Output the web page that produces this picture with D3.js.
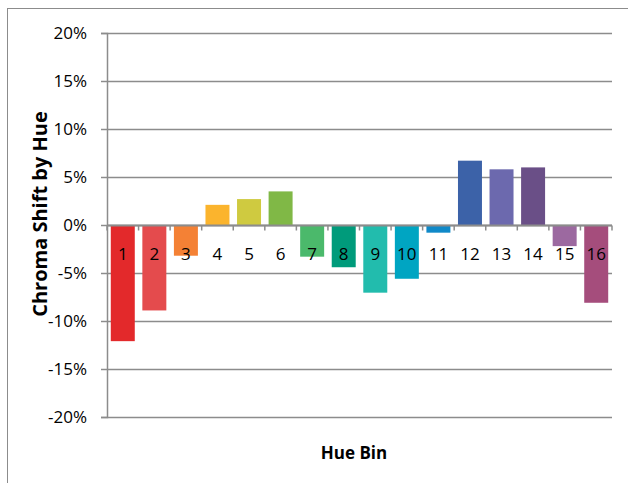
<!DOCTYPE html>
<html>
<head>
<meta charset="utf-8">
<script src="https://cdn.jsdelivr.net/npm/d3@7"></script>
<style>
  body { margin: 0; background: #fff; }
  svg { display: block; font-family: "Open Sans", sans-serif; }
</style>
</head>
<body>
<svg id="chart" width="628" height="483"></svg>
<script>
    "use strict";

    // chart data
    var bins = ["1", "2", "3", "4", "5", "6", "7", "8", "9", "10", "11", "12", "13", "14", "15", "16"];
    var shifts = [-12.1, -8.9, -3.2, 2.1, 2.7, 3.5, -3.3, -4.4, -7.05, -5.6, -0.8, 6.7, 5.8, 6.0, -2.2, -8.1];
    var colors = ["#e3292b", "#e44b4d", "#f48135", "#fbb42d", "#cfca40", "#80b846", "#4bb96b", "#009b7b",
                  "#22bcad", "#00a5c2", "#1089c8", "#3c62a8", "#6c69ae", "#6a4f87", "#9c69a0", "#a54d7c"];
    var yTicks = [-20, -15, -10, -5, 0, 5, 10, 15, 20];

    var svg = d3.select("#chart");
    var plot = { left: 107, right: 612, top: 33, bottom: 417 };

    // outer frame
    svg.append("rect")
        .attr("x", 7.5).attr("y", 8.5)
        .attr("width", 640).attr("height", 500)
        .attr("fill", "none").attr("stroke", "#8c8c8c").attr("stroke-width", 1);

    var x = d3.scaleBand()
        .domain(bins)
        .range([plot.left, plot.right])
        .paddingInner(0.24)
        .paddingOuter(0.12);

    var y = d3.scaleLinear()
        .domain([-20, 20])
        .range([plot.bottom, plot.top]);

    // gridlines
    svg.append("g")
        .selectAll("line")
        .data(yTicks)
        .enter().append("line")
        .attr("x1", plot.left).attr("x2", plot.right)
        .attr("y1", function (d) { return Math.round(y(d)) + 0.5; })
        .attr("y2", function (d) { return Math.round(y(d)) + 0.5; })
        .attr("stroke", "#8c8c8c").attr("stroke-width", 1.5);

    // bars
    svg.append("g")
        .selectAll("rect")
        .data(shifts)
        .enter().append("rect")
        .attr("x", function (d, i) { return x(bins[i]); })
        .attr("y", function (d) { return y(Math.max(0, d)); })
        .attr("width", x.bandwidth())
        .attr("height", function (d) { return Math.abs(y(d) - y(0)); })
        .attr("fill", function (d, i) { return colors[i]; });

    // y axis
    var yAxis = svg.append("g")
        .attr("transform", "translate(" + plot.left + ",0)")
        .call(d3.axisLeft(y).tickValues(yTicks).tickSize(6).tickPadding(14)
            .tickFormat(function (d) { return d + "%"; }));
    yAxis.select(".domain").attr("stroke", "#8c8c8c").attr("stroke-width", 1.5);
    yAxis.selectAll(".tick line").attr("stroke", "#8c8c8c").attr("stroke-width", 1.5);
    yAxis.selectAll(".tick text")
        .attr("fill", "#000")
        .style("font-size", "17px")
        .style("font-family", "'Open Sans', sans-serif");

    // x axis along zero, ticks at band boundaries
    var edges = d3.range(bins.length + 1).map(function (i) { return plot.left + i * (plot.right - plot.left) / bins.length; });
    var zeroY = Math.round(y(0)) + 0.5;
    svg.append("line")
        .attr("x1", plot.left).attr("x2", plot.right)
        .attr("y1", zeroY).attr("y2", zeroY)
        .attr("stroke", "#8c8c8c").attr("stroke-width", 2);
    svg.append("g")
        .selectAll("line")
        .data(edges)
        .enter().append("line")
        .attr("x1", function (d) { return d; }).attr("x2", function (d) { return d; })
        .attr("y1", zeroY).attr("y2", zeroY + 5)
        .attr("stroke", "#8c8c8c").attr("stroke-width", 1.5);

    // category labels
    svg.append("g")
        .selectAll("text")
        .data(bins)
        .enter().append("text")
        .attr("x", function (d) { return x(d) + x.bandwidth() / 2; })
        .attr("y", zeroY + 34)
        .attr("text-anchor", "middle")
        .style("font-size", "17px")
        .attr("fill", "#000")
        .text(function (d) { return d; });

    // axis titles
    svg.append("text")
        .attr("transform", "translate(47,214) rotate(-90)")
        .attr("text-anchor", "middle")
        .style("font-size", "20px")
        .attr("font-weight", "bold")
        .text("Chroma Shift by Hue");

    svg.append("text")
        .attr("x", 354)
        .attr("y", 459)
        .attr("text-anchor", "middle")
        .style("font-size", "17px")
        .attr("font-weight", "bold")
        .text("Hue Bin");
</script>
</body>
</html>
